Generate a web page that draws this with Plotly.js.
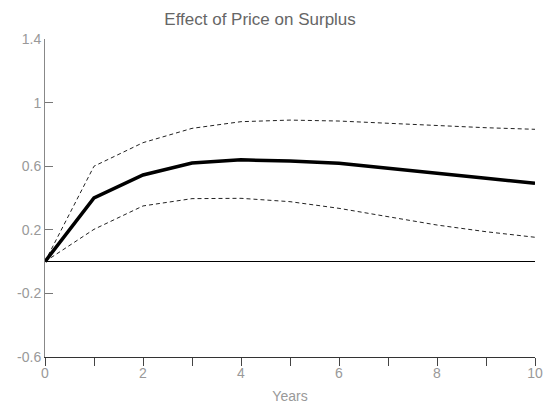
<!DOCTYPE html>
<html><head><meta charset="utf-8">
<script src="https://cdn.plot.ly/plotly-3.0.1.min.js"></script>
<style>html,body{margin:0;padding:0;background:#fff}#chart{width:551px;height:404px}</style>
</head><body><div id="chart"></div>
<script>
var years = [0,1,2,3,4,5,6,7,8,9,10];
var effect = [0,0.40,0.545,0.62,0.64,0.633,0.618,0.588,0.556,0.524,0.492];
var upperBand = [0,0.60,0.748,0.838,0.88,0.89,0.884,0.87,0.855,0.842,0.832];
var lowerBand = [0,0.203,0.35,0.396,0.398,0.377,0.335,0.282,0.23,0.188,0.153];
var xTickVals = [0,1,2,3,4,5,6,7,8,9,10];
var xTickText = ['0','','2','','4','','6','','8','','10'];
var yTickVals = [-0.6,-0.2,0.2,0.6,1,1.4];
var yTickText = ['-0.6','-0.2','0.2','0.6','1','1.4'];

var font = 'Liberation Sans, Arial, sans-serif';
var traces = [
  {x: years, y: upperBand, mode:'lines', line:{color:'#222', width:1, dash:'4px,3px'}, hoverinfo:'skip'},
  {x: years, y: lowerBand, mode:'lines', line:{color:'#222', width:1, dash:'4px,3px'}, hoverinfo:'skip'},
  {x: years, y: effect, mode:'lines', line:{color:'#000', width:3.5}, hoverinfo:'skip'}
];
var layout = {
  width:551, height:404,
  margin:{l:45, r:16, t:39, b:47},
  showlegend:false,
  paper_bgcolor:'#fff', plot_bgcolor:'#fff',
  font:{family:font, color:'#999', size:14},
  title:{text:'Effect of Price on Surplus', x:0.472, xanchor:'center', y:0.968, yanchor:'top', font:{family:font, size:17, color:'#666'}},
  xaxis:{range:[0,10], tickvals:xTickVals, ticktext:xTickText, ticks:'outside', ticklen:8, tickcolor:'#444', tickwidth:1,
    showline:true, linecolor:'#333', linewidth:1, showgrid:false, zeroline:false,
    ticklabelstandoff:-5,
    tickfont:{family:font, size:14, color:'#999'},
    title:{text:'Years', standoff:11, font:{family:font, size:14, color:'#999'}}},
  yaxis:{range:[-0.6,1.4], tickvals:yTickVals, ticktext:yTickText, ticks:'inside', ticklen:8, tickcolor:'#777', tickwidth:1,
    showline:true, linecolor:'#888', linewidth:1, showgrid:false,
    zeroline:true, zerolinecolor:'#000', zerolinewidth:1,
    tickfont:{family:font, size:14, color:'#999'}}
};
Plotly.newPlot('chart', traces, layout, {staticPlot:true, displayModeBar:false});
</script></body></html>
